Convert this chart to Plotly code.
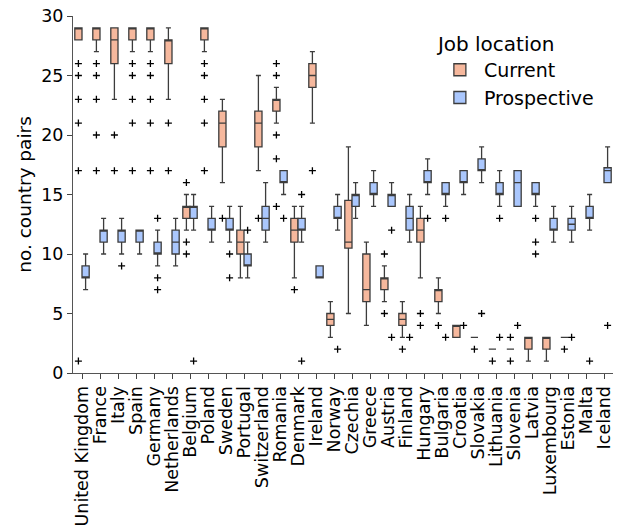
import plotly.graph_objects as go

# Countries in display order
countries = ["United Kingdom", "France", "Italy", "Spain", "Germany", "Netherlands",
             "Belgium", "Poland", "Sweden", "Portugal", "Switzerland", "Romania",
             "Denmark", "Ireland", "Norway", "Czechia", "Greece", "Austria", "Finland",
             "Hungary", "Bulgaria", "Croatia", "Slovakia", "Lithuania", "Slovenia",
             "Latvia", "Luxembourg", "Estonia", "Malta", "Iceland"]

# Current job location: box statistics (no data for Malta and Iceland)
cur_countries = countries[:28]
cur_lower = [28, 27, 23, 27, 27, 23, 12, 27, 16, 8, 17, 21, 8, 21, 3, 5, 4, 6, 3, 8, 5, 3, 3, 2, 2, 1, 1, 3]
cur_q1 =    [28, 28, 26, 28, 28, 26, 13, 28, 19, 10, 19, 22, 11, 24, 4, 10.5, 6, 7, 4, 11, 6, 3, 3, 2, 2, 2, 2, 3]
cur_med =   [29, 29, 28, 29, 29, 28, 14, 29, 21, 11, 21, 23, 12, 25, 4.5, 11, 7, 8, 4.5, 12, 7, 4, 3, 2, 2, 3, 3, 3]
cur_q3 =    [29, 29, 29, 29, 29, 28, 14, 29, 22, 12, 22, 23, 13, 26, 5, 14.5, 10, 8, 5, 13, 7, 4, 3, 2, 2, 3, 3, 3]
cur_upper = [29, 29, 29, 29, 29, 29, 15, 29, 23, 14, 25, 24, 14, 27, 6, 19, 11, 9, 6, 14, 8, 4, 3, 2, 2, 3, 3, 3]
cur_outliers = {
    "United Kingdom": [26, 25, 23, 21, 17, 1],
    "France": [26, 25, 23, 20, 17],
    "Italy": [20, 17],
    "Spain": [26, 25, 23, 21, 17],
    "Germany": [26, 25, 23, 21, 17],
    "Netherlands": [21, 17],
    "Belgium": [16, 11, 10],
    "Poland": [26, 25, 23, 21, 17],
    "Sweden": [13],
    "Switzerland": [13],
    "Romania": [26, 25, 20, 18, 14],
    "Denmark": [7],
    "Ireland": [17],
    "Austria": [10, 5],
    "Finland": [2],
    "Hungary": [5, 4],
    "Bulgaria": [4],
    "Slovakia": [2],
    "Lithuania": [1],
    "Slovenia": [3, 1],
    "Estonia": [2],
}

# Prospective job location: box statistics
pro_lower = [7, 10, 10, 10, 9, 9, 12, 11, 11, 8, 11, 15, 11, 8, 12, 13, 14, 14, 11, 15, 14, 15, 16, 14, 14, 14, 11, 11, 12, 16]
pro_q1 =    [8, 11, 11, 11, 10, 10, 13, 12, 12, 9, 12, 16, 12, 8, 13, 14, 15, 14, 12, 16, 15, 16, 17, 15, 14, 15, 12, 12, 13, 16]
pro_med =   [8, 12, 12, 12, 10, 11, 14, 12, 12, 9, 13, 16, 12, 8, 13, 15, 15, 15, 13, 16, 15, 16, 17, 15, 16, 15, 12, 12.5, 13, 17]
pro_q3 =    [9, 12, 12, 12, 11, 12, 14, 13, 13, 10, 14, 17, 13, 9, 14, 15, 16, 15, 14, 17, 16, 17, 18, 16, 17, 16, 13, 13, 14, 17.25]
pro_upper = [10, 13, 13, 12, 12, 13, 15, 14, 14, 11, 16, 17, 14, 9, 15, 16, 17, 16, 15, 18, 16, 17, 19, 17, 17, 16, 14, 14, 15, 19]
pro_outliers = {
    "Italy": [9],
    "Germany": [13, 8, 7],
    "Belgium": [1],
    "Sweden": [10, 8],
    "Portugal": [12],
    "Romania": [13],
    "Denmark": [15, 1],
    "Norway": [2],
    "Austria": [12, 3],
    "Finland": [3],
    "Hungary": [13],
    "Bulgaria": [13, 3],
    "Croatia": [4],
    "Slovakia": [5],
    "Lithuania": [13, 3],
    "Slovenia": [4],
    "Latvia": [13, 11, 10],
    "Estonia": [3],
    "Malta": [1],
    "Iceland": [4],
}

CUR_COLOR = "#F6B89D"
PRO_COLOR = "#AAC7FD"
EDGE = "#3c3c3c"
FONT = "DejaVu Sans"


def flatten(outliers):
    xs, ys = [], []
    for c, vals in outliers.items():
        for v in vals:
            xs.append(c)
            ys.append(v)
    return xs, ys


fig = go.Figure()

fig.add_trace(go.Box(
    name="Current", x=cur_countries,
    q1=cur_q1, median=cur_med, q3=cur_q3,
    lowerfence=cur_lower, upperfence=cur_upper,
    boxpoints=False, fillcolor=CUR_COLOR,
    line=dict(color=EDGE, width=1.3), whiskerwidth=0.7,
))
fig.add_trace(go.Box(
    name="Prospective", x=countries,
    q1=pro_q1, median=pro_med, q3=pro_q3,
    lowerfence=pro_lower, upperfence=pro_upper,
    boxpoints=False, fillcolor=PRO_COLOR,
    line=dict(color=EDGE, width=1.3), whiskerwidth=0.7,
))

for outl in (cur_outliers, pro_outliers):
    ox, oy = flatten(outl)
    fig.add_trace(go.Scatter(
        x=ox, y=oy, mode="markers", showlegend=False, hoverinfo="skip",
        marker=dict(symbol="cross-thin", size=5, color="black",
                    line=dict(color="black", width=1.3)),
    ))

fig.update_layout(
    width=618, height=531,
    margin=dict(l=73, r=4, t=16, b=153),
    paper_bgcolor="white", plot_bgcolor="white",
    boxmode="group", boxgap=0.2, boxgroupgap=0.0,
    scattermode="group", scattergap=0.2,
    font=dict(family=FONT, size=17, color="black"),
    legend=dict(
        title=dict(text="Job location", font=dict(size=20)),
        font=dict(size=19),
        x=0.672, y=0.975, xanchor="left", yanchor="top",
        bgcolor="rgba(0,0,0,0)", itemwidth=38,
    ),
)
fig.update_xaxes(
    type="category", categoryorder="array", categoryarray=countries,
    range=[-0.5, len(countries) - 0.5],
    tickmode="linear", tick0=0, dtick=1,
    showline=True, linecolor="#555", linewidth=1.1,
    ticks="outside", ticklen=5, tickcolor="#444", tickangle=-90,
    tickfont=dict(size=17.5), showgrid=False, zeroline=False,
)
fig.update_yaxes(
    range=[0, 30], dtick=5, tick0=0,
    showline=True, linecolor="#555", linewidth=1.1,
    ticks="outside", ticklen=5, tickcolor="#444",
    tickfont=dict(size=17.5), showgrid=False, zeroline=False,
    title=dict(text="no. country pairs", font=dict(size=18.5), standoff=4),
)

fig.write_html("out.html")
